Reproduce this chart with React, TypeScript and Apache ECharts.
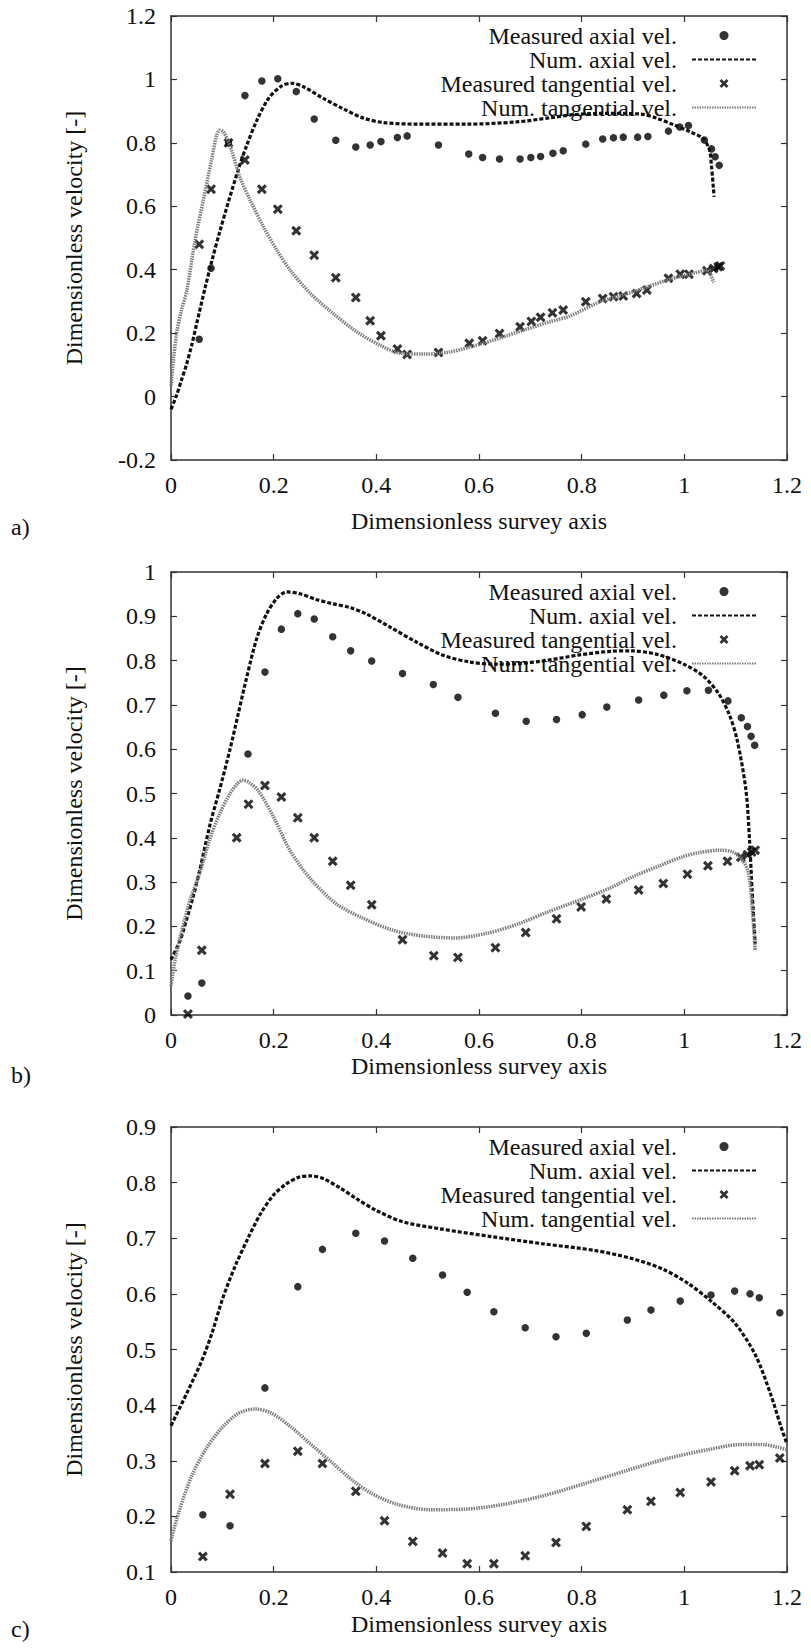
import React, { useEffect, useRef } from "react";
import * as echarts from "echarts";

// ---------- data ----------
const seriesNames = [
  "Measured axial vel.",
  "Num. axial vel.",
  "Measured tangential vel.",
  "Num. tangential vel.",
];
const panelLabels = ["a)", "b)", "c)"];
const xTitle = "Dimensionless survey axis";
const yTitle = "Dimensionless velocity [-]";
const xRange = [0, 1.2, 0.2];
const yRanges = [
  [-0.2, 1.2, 0.2],
  [0, 1, 0.1],
  [0.1, 0.9, 0.1],
];

// panel a
const aMeasAxial = [
  [0.055, 0.181], [0.078, 0.405], [0.112, 0.8], [0.144, 0.949], [0.177, 0.995], [0.208, 1.002],
  [0.244, 0.962], [0.279, 0.875], [0.321, 0.808], [0.36, 0.787], [0.388, 0.793], [0.409, 0.804],
  [0.441, 0.817], [0.46, 0.822], [0.521, 0.793], [0.58, 0.765], [0.607, 0.754], [0.64, 0.749],
  [0.68, 0.749], [0.701, 0.754], [0.72, 0.757], [0.744, 0.767], [0.764, 0.775], [0.808, 0.796],
  [0.841, 0.812], [0.862, 0.816], [0.881, 0.818], [0.909, 0.818], [0.929, 0.82], [0.969, 0.837],
  [0.991, 0.85], [1.008, 0.855], [1.039, 0.809], [1.053, 0.781], [1.06, 0.756], [1.068, 0.729],
];
const aNumAxial = [
  [0, -0.04], [0.01, 0.0], [0.02, 0.05], [0.03, 0.1], [0.04, 0.16], [0.05, 0.23], [0.066, 0.34],
  [0.08, 0.43], [0.095, 0.52], [0.112, 0.615], [0.131, 0.715], [0.147, 0.79], [0.167, 0.87],
  [0.19, 0.94], [0.215, 0.979], [0.235, 0.988], [0.258, 0.977], [0.297, 0.94], [0.336, 0.907],
  [0.375, 0.878], [0.414, 0.864], [0.48, 0.859], [0.576, 0.859], [0.673, 0.866], [0.738, 0.879],
  [0.784, 0.889], [0.849, 0.893], [0.914, 0.891], [0.946, 0.878], [0.979, 0.857], [1.011, 0.835],
  [1.037, 0.813], [1.049, 0.777], [1.053, 0.725], [1.058, 0.63],
];
const aMeasTang = [
  [0.055, 0.48], [0.078, 0.654], [0.112, 0.8], [0.144, 0.746], [0.177, 0.654], [0.208, 0.591],
  [0.244, 0.523], [0.279, 0.446], [0.321, 0.375], [0.36, 0.312], [0.388, 0.239], [0.409, 0.192],
  [0.441, 0.15], [0.46, 0.133], [0.521, 0.139], [0.581, 0.168], [0.607, 0.176], [0.64, 0.199],
  [0.68, 0.22], [0.702, 0.237], [0.72, 0.25], [0.743, 0.264], [0.764, 0.273], [0.808, 0.299],
  [0.841, 0.309], [0.862, 0.315], [0.881, 0.317], [0.907, 0.325], [0.927, 0.336], [0.969, 0.373],
  [0.992, 0.386], [1.009, 0.386], [1.044, 0.397], [1.057, 0.404], [1.066, 0.409], [1.07, 0.412],
];
const aNumTang = [
  [0, 0.035], [0.005, 0.12], [0.011, 0.2], [0.02, 0.27], [0.031, 0.336], [0.047, 0.494],
  [0.063, 0.62], [0.079, 0.746], [0.089, 0.825], [0.095, 0.84], [0.102, 0.835], [0.11, 0.81],
  [0.118, 0.777], [0.134, 0.693], [0.154, 0.62], [0.18, 0.536], [0.206, 0.462], [0.232, 0.399],
  [0.271, 0.326], [0.316, 0.262], [0.362, 0.204], [0.407, 0.162], [0.446, 0.137], [0.492, 0.134],
  [0.544, 0.141], [0.608, 0.168], [0.673, 0.202], [0.738, 0.236], [0.777, 0.254], [0.836, 0.299],
  [0.901, 0.331], [0.966, 0.367], [1.018, 0.389], [1.044, 0.399], [1.057, 0.36],
];

// panel b
const bMeasAxial = [
  [0.033, 0.043], [0.06, 0.072], [0.15, 0.589], [0.183, 0.774], [0.215, 0.871], [0.247, 0.906],
  [0.279, 0.894], [0.315, 0.854], [0.35, 0.822], [0.391, 0.799], [0.451, 0.771], [0.511, 0.746],
  [0.559, 0.717], [0.632, 0.681], [0.692, 0.663], [0.751, 0.667], [0.801, 0.678], [0.849, 0.695],
  [0.911, 0.711], [0.96, 0.722], [1.005, 0.732], [1.047, 0.733], [1.085, 0.709], [1.111, 0.671],
  [1.123, 0.651], [1.13, 0.629], [1.137, 0.609],
];
const bNumAxial = [
  [0, 0.125], [0.018, 0.169], [0.03, 0.214], [0.043, 0.267], [0.056, 0.327], [0.076, 0.43],
  [0.095, 0.51], [0.115, 0.6], [0.131, 0.68], [0.147, 0.76], [0.167, 0.85], [0.186, 0.905],
  [0.206, 0.94], [0.225, 0.955], [0.251, 0.951], [0.283, 0.938], [0.316, 0.928], [0.348, 0.92],
  [0.381, 0.905], [0.426, 0.876], [0.478, 0.842], [0.53, 0.812], [0.581, 0.797], [0.633, 0.792],
  [0.675, 0.793], [0.735, 0.801], [0.796, 0.813], [0.856, 0.821], [0.896, 0.822], [0.947, 0.814],
  [0.997, 0.793], [1.037, 0.765], [1.067, 0.725], [1.088, 0.677], [1.103, 0.62], [1.12, 0.508],
  [1.127, 0.395], [1.132, 0.282], [1.138, 0.16],
];
const bMeasTang = [
  [0.033, 0.002], [0.06, 0.146], [0.128, 0.4], [0.151, 0.476], [0.183, 0.518], [0.215, 0.492],
  [0.247, 0.445], [0.279, 0.4], [0.315, 0.347], [0.35, 0.293], [0.391, 0.249], [0.451, 0.17],
  [0.512, 0.134], [0.559, 0.13], [0.632, 0.152], [0.691, 0.186], [0.751, 0.217], [0.799, 0.244],
  [0.848, 0.262], [0.911, 0.282], [0.959, 0.297], [1.006, 0.318], [1.046, 0.337], [1.084, 0.347],
  [1.11, 0.356], [1.123, 0.362], [1.131, 0.368], [1.138, 0.372],
];
const bNumTang = [
  [0, 0.066], [0.008, 0.124], [0.021, 0.19], [0.037, 0.259], [0.056, 0.32], [0.075, 0.395],
  [0.095, 0.455], [0.115, 0.5], [0.13, 0.523], [0.14, 0.53], [0.152, 0.525], [0.171, 0.505],
  [0.201, 0.444], [0.232, 0.371], [0.272, 0.307], [0.322, 0.251], [0.373, 0.219], [0.433, 0.191],
  [0.493, 0.178], [0.554, 0.174], [0.614, 0.184], [0.675, 0.205], [0.735, 0.233], [0.802, 0.262],
  [0.856, 0.287], [0.899, 0.312], [0.95, 0.336], [0.996, 0.357], [1.03, 0.367], [1.068, 0.372],
  [1.094, 0.368], [1.113, 0.35], [1.125, 0.32], [1.132, 0.244], [1.138, 0.147],
];

// panel c
const cMeasAxial = [
  [0.062, 0.203], [0.115, 0.183], [0.183, 0.431], [0.247, 0.613], [0.295, 0.68], [0.36, 0.709],
  [0.416, 0.695], [0.471, 0.664], [0.529, 0.634], [0.577, 0.603], [0.629, 0.568], [0.69, 0.539],
  [0.75, 0.523], [0.809, 0.529], [0.889, 0.553], [0.935, 0.571], [0.992, 0.587], [1.052, 0.598],
  [1.098, 0.605], [1.128, 0.6], [1.146, 0.593], [1.186, 0.566],
];
const cNumAxial = [
  [0, 0.363], [0.03, 0.42], [0.06, 0.48], [0.08, 0.53], [0.1, 0.59], [0.125, 0.65], [0.15, 0.7],
  [0.175, 0.745], [0.2, 0.778], [0.225, 0.798], [0.25, 0.81], [0.272, 0.812], [0.297, 0.807],
  [0.33, 0.79], [0.36, 0.772], [0.4, 0.75], [0.45, 0.73], [0.524, 0.717], [0.624, 0.703],
  [0.725, 0.69], [0.826, 0.678], [0.896, 0.664], [0.957, 0.645], [1.007, 0.619], [1.052, 0.587],
  [1.098, 0.548], [1.138, 0.491], [1.168, 0.42], [1.188, 0.362], [1.2, 0.33],
];
const cMeasTang = [
  [0.062, 0.128], [0.115, 0.24], [0.183, 0.295], [0.247, 0.317], [0.295, 0.295], [0.36, 0.245],
  [0.416, 0.192], [0.471, 0.155], [0.529, 0.134], [0.577, 0.115], [0.629, 0.115], [0.69, 0.129],
  [0.75, 0.153], [0.809, 0.182], [0.889, 0.212], [0.935, 0.227], [0.992, 0.243], [1.052, 0.262],
  [1.098, 0.282], [1.128, 0.291], [1.146, 0.293], [1.186, 0.305],
];
const cNumTang = [
  [0, 0.156], [0.015, 0.207], [0.04, 0.272], [0.07, 0.324], [0.1, 0.36], [0.131, 0.385],
  [0.164, 0.393], [0.195, 0.386], [0.232, 0.362], [0.272, 0.33], [0.312, 0.298], [0.352, 0.266],
  [0.393, 0.24], [0.443, 0.221], [0.504, 0.212], [0.574, 0.213], [0.644, 0.221], [0.725, 0.237],
  [0.806, 0.259], [0.886, 0.282], [0.967, 0.304], [1.047, 0.32], [1.108, 0.329], [1.153, 0.329],
  [1.183, 0.324], [1.2, 0.32],
];

const panelData = [
  [aMeasAxial, aNumAxial, aMeasTang, aNumTang],
  [bMeasAxial, bNumAxial, bMeasTang, bNumTang],
  [cMeasAxial, cNumAxial, cMeasTang, cNumTang],
];

// ---------- layout & style ----------
const W = 811;
const H = 1651;
const FONT = "Liberation Serif";
const TEXT = "#111";
const AXIS = "#333";
const GRID_LEFT = 171;
const GRID_WIDTH = 616;
const panels = [
  { top: 16, height: 444, titleY: 521, labelY: 527 },
  { top: 572, height: 443, titleY: 1066, labelY: 1075 },
  { top: 1127, height: 445, titleY: 1624, labelY: 1629 },
];
const X_SYMBOL = "path://M2.2,0L5,2.8L7.8,0L10,2.2L7.2,5L10,7.8L7.8,10L5,7.2L2.2,10L0,7.8L2.8,5L0,2.2Z";
const HIDDEN = { color: "rgba(0,0,0,0)", borderColor: "rgba(0,0,0,0)", borderWidth: 0, opacity: 0 };

function buildOption() {
  const grid: any[] = [];
  const xAxis: any[] = [];
  const yAxis: any[] = [];
  const series: any[] = [];
  const legend: any[] = [];
  const graphic: any[] = [];

  const axisLine = { show: true, onZero: false, lineStyle: { color: AXIS, width: 1.5 } };
  const axisTick = { show: true, inside: true, length: 6, lineStyle: { color: AXIS, width: 1.2 } };
  const labelStyle = { fontFamily: FONT, fontSize: 24, color: TEXT };

  panels.forEach((p, i) => {
    grid.push({ left: GRID_LEFT, width: GRID_WIDTH, top: p.top, height: p.height, show: false });
    const [ymin, ymax, yint] = yRanges[i];
    const base = { type: "value", gridIndex: i, splitLine: { show: false }, axisLine, axisTick };
    xAxis.push({
      ...base, position: "bottom", min: xRange[0], max: xRange[1], interval: xRange[2],
      axisLabel: { ...labelStyle, margin: 13 },
    });
    xAxis.push({
      ...base, position: "top", min: xRange[0], max: xRange[1], interval: xRange[2],
      axisLabel: { show: false },
    });
    yAxis.push({
      ...base, position: "left", min: ymin, max: ymax, interval: yint,
      axisLabel: { ...labelStyle, margin: 15 },
    });
    yAxis.push({
      ...base, position: "right", min: ymin, max: ymax, interval: yint,
      axisLabel: { show: false },
    });

    const [measAx, numAx, measTg, numTg] = panelData[i];
    const xi = i * 2;
    const yi = i * 2;
    series.push({
      name: seriesNames[0], type: "scatter", xAxisIndex: xi, yAxisIndex: yi, data: measAx,
      symbol: "circle", symbolSize: 7.5, itemStyle: { color: "#000" },
    });
    series.push({
      name: seriesNames[1], type: "line", xAxisIndex: xi, yAxisIndex: yi, data: numAx,
      symbol: "none", showSymbol: false, smooth: 0.3,
      lineStyle: { color: "#111", width: 3.2, type: [4, 2] }, itemStyle: HIDDEN,
    });
    series.push({
      name: seriesNames[2], type: "scatter", xAxisIndex: xi, yAxisIndex: yi, data: measTg,
      symbol: X_SYMBOL, symbolSize: 10, itemStyle: { color: "#000" },
    });
    series.push({
      name: seriesNames[3], type: "line", xAxisIndex: xi, yAxisIndex: yi, data: numTg,
      symbol: "none", showSymbol: false, smooth: 0.3,
      lineStyle: { color: "#7d7d7d", width: 3.5, type: [1.5, 1] }, itemStyle: HIDDEN,
    });

    legend.push({
      show: true, orient: "vertical", align: "right", right: 54, top: p.top + 7.5,
      padding: 0, itemGap: 0, itemWidth: 64, itemHeight: 9, selectedMode: false,
      textStyle: { fontFamily: FONT, fontSize: 24, color: TEXT, lineHeight: 24, padding: [0, 10, 0, 0] },
      data: seriesNames,
    });

    const textStyle = (t: string) => ({
      text: t, fontFamily: FONT, fontSize: 24, fill: TEXT,
      align: "center", verticalAlign: "middle",
    });
    graphic.push({ type: "text", x: GRID_LEFT + GRID_WIDTH / 2, y: p.titleY, style: textStyle(xTitle) });
    graphic.push({
      type: "text", x: 74, y: p.top + p.height / 2, rotation: Math.PI / 2, style: textStyle(yTitle),
    });
    graphic.push({
      type: "text", x: 11, y: p.labelY,
      style: { ...textStyle(panelLabels[i]), align: "left" },
    });
  });

  return {
    animation: false,
    backgroundColor: "#fff",
    textStyle: { fontFamily: FONT },
    grid, xAxis, yAxis, series, legend, graphic,
  };
}

export default function App() {
  const ref = useRef<HTMLDivElement>(null);
  useEffect(() => {
    if (!ref.current) return;
    const chart = echarts.init(ref.current, null, { renderer: "svg" });
    chart.setOption(buildOption() as any);
    return () => chart.dispose();
  }, []);
  return (
    <div
      ref={ref}
      style={{ position: "absolute", left: 0, top: 0, width: W, height: H, background: "#fff" }}
    />
  );
}
